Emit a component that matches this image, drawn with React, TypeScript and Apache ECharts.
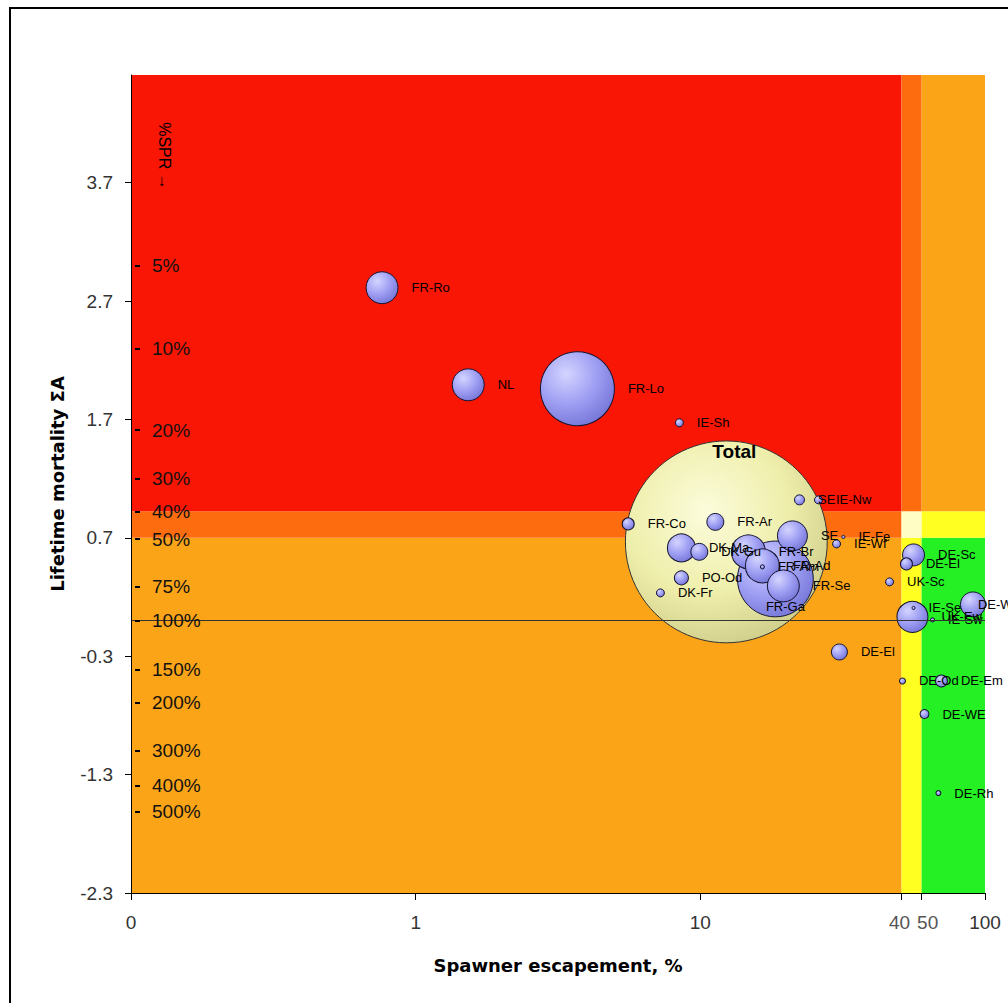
import React, { useEffect, useRef } from "react";
import * as echarts from "echarts";

// ---- Data ----
const names = [
  "Total", "FR-Ga", "FR-Ro", "NL", "FR-Lo", "IE-Sh", "FR-Co", "FR-Ar", "SE", "IE-Nw",
  "DK-Ma", "DK-Gu", "FR-Br", "FR-Ad", "FR-Am", "FR-Se", "SE", "IE-Fe", "IE-Wf", "PO-Od",
  "DK-Fr", "DE-Sc", "DE-El", "UK-Sc", "UK-Ew", "IE-Se", "IE-Sw", "DE-Wu", "DE-El", "DE-Od",
  "DE-Em", "DE-WE", "DE-Rh",
];
// Spawner escapement, %
const escapement = [
  12.34, 18.35, 0.762, 1.53, 3.7, 8.44, 5.58, 11.29, 22.3, 26.0,
  8.58, 9.92, 14.75, 16.52, 16.52, 19.57, 21.06, 31.8, 30.1, 8.58,
  7.24, 56.1, 52.98, 46.2, 55.6, 56.1, 65.4, 90.7, 30.8, 51.3,
  70.3, 61.3, 68.6,
];
// Lifetime mortality ΣA
const mortality = [
  0.666, 0.353, 2.813, 1.993, 1.96, 1.672, 0.818, 0.835, 1.021, 1.021,
  0.615, 0.582, 0.582, 0.463, 0.455, 0.294, 0.717, 0.708, 0.649, 0.362,
  0.235, 0.556, 0.48, 0.328, 0.032, 0.108, 0.007, 0.138, -0.264, -0.509,
  -0.509, -0.788, -1.456,
];
// relative stock size (bubble area)
const stockSize = [
  1020, 144, 25.6, 25.6, 137, 1.6, 3.6, 7.2, 2.5, 1.6,
  19.6, 7.2, 28.9, 28.9, 0.4, 25.6, 22.5, 0.25, 1.6, 4.9,
  1.6, 12.1, 3.6, 1.6, 24, 0.25, 0.4, 15.6, 6.4, 0.9,
  3.6, 2.0, 0.6,
];

const yTicks = [-2.3, -1.3, -0.3, 0.7, 1.7, 2.7, 3.7];
const xTicks = [0.1, 1, 10, 100];
const xTickLabels = ["0", "1", "10", "100"];

// %SPR reference scale (position on the ΣA axis)
const sprLabels = ["5%", "10%", "20%", "30%", "40%", "50%", "75%", "100%", "150%", "200%", "300%", "400%", "500%"];
const sprA = [3.0, 2.3, 1.61, 1.2, 0.92, 0.69, 0.29, 0.0, -0.41, -0.69, -1.1, -1.39, -1.61];

// zone limits
const bandX = [50.9, 59.9];
const bandXLabels = ["40", "50"];
const bandY = [0.7, 0.925];
const xMin = 0.1, xMax = 100, yMin = -2.3, yMax = 4.61;

const RED = "#FA1605", DORANGE = "#FD6C0E", ORANGE = "#FBA418", YELLOW = "#FFFF22", GREEN = "#24F024", LYELLOW = "#FFFCC4";

function nearestIdx(arr: number[], v: number) {
  let bi = 0, bd = Infinity;
  arr.forEach((a, i) => {
    const d = Math.abs(a - v);
    if (d < bd) { bd = d; bi = i; }
  });
  return bi;
}

export default function App() {
  const ref = useRef<HTMLDivElement>(null);
  useEffect(() => {
    if (!ref.current) return;
    const chart = echarts.init(ref.current, undefined, { renderer: "svg" });

    const xs = [xMin, bandX[0], bandX[1], xMax];
    const ys = [yMin, bandY[0], bandY[1], yMax];
    const colors = [
      [ORANGE, YELLOW, GREEN],
      [DORANGE, LYELLOW, YELLOW],
      [RED, DORANGE, ORANGE],
    ];
    const areas: any[] = [];
    for (let r = 0; r < 3; r++) {
      for (let c = 0; c < 3; c++) {
        areas.push([
          { xAxis: xs[c], yAxis: ys[r], itemStyle: { color: colors[r][c], opacity: 1, borderWidth: 0 } },
          { xAxis: xs[c + 1], yAxis: ys[r + 1] },
        ]);
      }
    }

    const blueStyle = {
      color: new echarts.graphic.RadialGradient(0.35, 0.3, 0.8, [
        { offset: 0, color: "#D4D4FF" },
        { offset: 0.5, color: "#A0A0F4" },
        { offset: 1, color: "#7070D4" },
      ]),
      borderColor: "#141430",
      borderWidth: 1,
      opacity: 1,
    };
    const totalStyle = {
      color: new echarts.graphic.RadialGradient(0.4, 0.35, 0.75, [
        { offset: 0, color: "#FCFCDC" },
        { offset: 0.55, color: "#EEEEAA" },
        { offset: 1, color: "#C8C884" },
      ]),
      borderColor: "#333",
      borderWidth: 1,
      opacity: 1,
    };

    const labelOverrides: Record<string, any> = {
      Total: { position: "inside", offset: [8, -90], fontWeight: "bold", fontSize: 19 },
      "FR-Ga": { position: "inside", offset: [10, 28] },
      "DE-Wu": { distance: -8 },
    };

    const bubbleSeries = names.map((n, i) => ({
      type: "scatter",
      name: n + "_" + i,
      z: 3,
      silent: true,
      clip: false,
      data: [[escapement[i], mortality[i], stockSize[i]]],
      symbol: "circle",
      symbolSize: (d: number[]) => Math.max(3, 6.32 * Math.sqrt(d[2])),
      itemStyle: i === 0 ? totalStyle : blueStyle,
      label: {
        show: true,
        formatter: () => n,
        position: "right",
        distance: 13,
        color: "#000",
        fontFamily: "Liberation Sans",
        fontSize: 13,
        ...(labelOverrides[n] || {}),
      },
      emphasis: { disabled: true },
    }));

    const axisLabelFont = { fontFamily: "Liberation Sans", fontSize: 19 };
    const titleFont = { fontFamily: "DejaVu Sans", fontWeight: "bold", fontSize: 18, color: "#000" };

    chart.setOption({
      animation: false,
      backgroundColor: "#fff",
      grid: { left: 131, top: 75, width: 854, height: 818, show: false },
      xAxis: [
        {
          type: "log", logBase: 10, min: xMin, max: xMax, position: "bottom", z: 10,
          name: "Spawner escapement, %", nameLocation: "middle", nameGap: 63, nameTextStyle: titleFont,
          axisLine: { show: true, onZero: false, lineStyle: { color: "#000", width: 1 } },
          axisTick: { show: true, length: 7, customValues: xTicks, lineStyle: { color: "#000" } },
          axisLabel: {
            show: true, margin: 20, color: "#333", ...axisLabelFont, customValues: xTicks,
            showMinLabel: true, showMaxLabel: true,
            formatter: (v: number) => xTickLabels[nearestIdx(xTicks.map(Math.log10), Math.log10(v))],
          },
          splitLine: { show: false }, minorTick: { show: false }, minorSplitLine: { show: false },
        },
        {
          type: "log", logBase: 10, min: xMin, max: xMax, position: "bottom", z: 10,
          axisLine: { show: false, onZero: false },
          axisTick: { show: true, length: 7, customValues: bandX, lineStyle: { color: "#000" } },
          axisLabel: {
            show: true, margin: 20, color: "#555", ...axisLabelFont, customValues: bandX,
            showMinLabel: true, showMaxLabel: true, hideOverlap: false,
            formatter: (v: number) => {
              const i = nearestIdx(bandX, v);
              return i === 0 ? "{a|" + bandXLabels[i] + "}" : "{b|" + bandXLabels[i] + "}";
            },
            rich: {
              a: { ...axisLabelFont, color: "#555", padding: [0, 4, 0, 0] },
              b: { ...axisLabelFont, color: "#555", padding: [0, 0, 0, 12] },
            },
          },
          splitLine: { show: false },
        },
      ],
      yAxis: [
        {
          type: "value", min: yMin, max: yMax, position: "left", z: 10,
          name: "Lifetime mortality ΣA", nameLocation: "middle", nameGap: 65, nameRotate: 90, nameTextStyle: titleFont,
          axisLine: { show: true, onZero: false, lineStyle: { color: "#000", width: 1 } },
          axisTick: { show: true, length: 6, customValues: yTicks, lineStyle: { color: "#000" } },
          axisLabel: {
            show: true, margin: 18, color: "#333", ...axisLabelFont, customValues: yTicks,
            showMinLabel: true, showMaxLabel: true,
            formatter: (v: number) => v.toFixed(1),
          },
          splitLine: { show: false },
        },
        {
          type: "value", min: yMin, max: yMax, position: "left", offset: -4, z: 10,
          axisLine: { show: false, onZero: false },
          axisTick: { show: true, inside: true, length: 5, customValues: sprA, lineStyle: { color: "#000", width: 2 } },
          axisLabel: {
            show: true, inside: true, margin: 17, color: "#111", ...axisLabelFont, customValues: sprA,
            showMinLabel: true, showMaxLabel: true, hideOverlap: false,
            formatter: (v: number) => sprLabels[nearestIdx(sprA, v)],
          },
          splitLine: { show: false },
        },
      ],
      graphic: [
        {
          type: "rect", shape: { x: 10, y: 8, width: 1020, height: 1020 },
          style: { fill: "none", stroke: "#000", lineWidth: 2 }, silent: true, z: 100,
        },
        {
          type: "text", x: 164, y: 156, rotation: -Math.PI / 2, z: 50,
          style: {
            text: "%SPR →", fill: "#000", font: "16px 'Liberation Sans'",
            textAlign: "center", textVerticalAlign: "middle",
          },
        },
      ],
      series: [
        {
          type: "scatter", name: "zones", z: 1, silent: true, data: [],
          markArea: { silent: true, data: areas, label: { show: false } },
          markLine: {
            silent: true, symbol: "none", label: { show: false },
            lineStyle: { color: "#333", width: 1, type: "solid" },
            data: [{ yAxis: 0 }],
          },
        },
        ...bubbleSeries,
      ],
    });
    return () => chart.dispose();
  }, []);
  return <div ref={ref} style={{ position: "fixed", left: 0, top: 0, width: 1008, height: 1003 }} />;
}
